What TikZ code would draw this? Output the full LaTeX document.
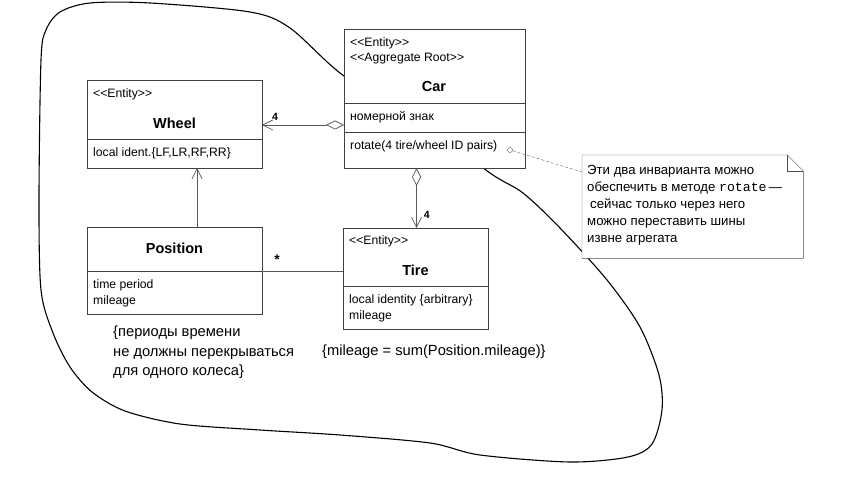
\documentclass[tikz,border=0pt]{standalone}
\usepackage{fontspec}
\setmainfont{Liberation Sans}
\setmonofont{Liberation Mono}
\usetikzlibrary{arrows.meta}

\begin{document}
\begin{tikzpicture}
        [x=1pt, y=-1pt,
        box/.style={draw=black!75, fill=white, anchor=north west, inner sep=0pt, outer sep=0pt},
        boxText/.style={anchor=west, inner sep=0pt, font=\fontsize{12.2}{14}\selectfont},
        className/.style={inner sep=0pt, font=\fontsize{14.5}{16}\selectfont\bfseries},
        mult/.style={inner sep=0pt, font=\fontsize{10.5}{12}\selectfont\bfseries},
        rule/.style={anchor=north west, align=left, inner sep=0pt, font=\fontsize{14.7}{19.5}\selectfont},
        assoc/.style={draw=black!65, line width=0.7pt},
        aggr/.style={assoc, {Diamond[open,length=18pt,width=9pt]}-{Straight Barb[length=10pt,width=10pt]}},
        navig/.style={assoc, -{Straight Barb[length=10pt,width=10pt]}}]
        \useasboundingbox (0,0) rectangle (859,478);

        % aggregate boundary
        \draw[line width=1.1pt] plot[smooth cycle] coordinates {(344,76) (290,28) (250,12) (150,3) (90,3) (60,12) (46,30) (41,60) (39,200) (41,290) (53,333) (70,367) (92,392) (125,411) (180,424) (260,430) (340,435) (430,443) (480,455) (570,462) (628,457) (652,444) (662,410) (659,375) (640,327) (607,280) (560,228) (523,193) (490,173) (420,120)};

        % Car
        \node[box, minimum width=181pt, minimum height=74pt] (carHead) at (344,29) {};
        \node[box, minimum width=181pt, minimum height=29pt] (carAttr) at (carHead.south west) {};
        \node[box, minimum width=181pt, minimum height=36pt] (carOps) at (carAttr.south west) {};
        \node[boxText] (carSt1) at (350,43) {<{}<Entity>{}>};
        \node[boxText] (carSt2) at (350,59) {<{}<Aggregate Root>{}>};
        \node[className] (carName) at (434,87) {Car};
        \node[boxText] (carPlate) at (350,117) {номерной знак};
        \node[boxText] (carRotate) at (350,146) {rotate(4 tire/wheel ID pairs)};

        % Wheel
        \node[box, minimum width=175pt, minimum height=59pt] (wheelHead) at (87,80) {};
        \node[box, minimum width=175pt, minimum height=29pt] (wheelAttr) at (wheelHead.south west) {};
        \node[boxText] (wheelSt) at (93,94) {<{}<Entity>{}>};
        \node[className] (wheelName) at (174.5,123) {Wheel};
        \node[boxText] (wheelIdent) at (93,153) {local ident.\{LF,LR,RF,RR\}};

        % Position
        \node[box, minimum width=175pt, minimum height=44pt] (posHead) at (87,227) {};
        \node[box, minimum width=175pt, minimum height=43pt] (posAttr) at (posHead.south west) {};
        \node[className] (posName) at (174.5,248) {Position};
        \node[boxText] (posPeriod) at (93,285) {time period};
        \node[boxText] (posMileage) at (93,301) {mileage};

        % Tire
        \node[box, minimum width=145pt, minimum height=58pt] (tireHead) at (343,228) {};
        \node[box, minimum width=145pt, minimum height=43pt] (tireAttr) at (tireHead.south west) {};
        \node[boxText] (tireSt) at (349,241) {<{}<Entity>{}>};
        \node[className] (tireName) at (415.5,270) {Tire};
        \node[boxText] (tireIdent) at (349,300) {local identity \{arbitrary\}};
        \node[boxText] (tireMileage) at (349,316) {mileage};

        \coordinate (carToWheel) at ([yshift=7pt]carAttr.south west);
        \coordinate (carToTire) at ([xshift=-18pt]carOps.south);
        \coordinate (posToWheel) at ([xshift=22.5pt]posHead.north);

        \draw[aggr] (carToWheel) -- (carToWheel -| wheelHead.east) node[mult, pos=0.84, above=4pt] {4};
        \draw[aggr] (carToTire) -- (carToTire |- tireHead.north) node[mult, pos=0.78, right=7pt] {4};
        \draw[navig] (posToWheel) -- (posToWheel |- wheelAttr.south);
        \draw[assoc] (posHead.south east) -- (posHead.south east -| tireHead.west) node[pos=0.185, above=3pt, font=\fontsize{14}{16}\selectfont\bfseries] {*};

        % constraints
        \node[rule] (posRule) at (113,326) {\{периоды времени\\не должны перекрываться\\для одного колеса\}};
        \node[rule] (tireRule) at (322,345) {\{mileage = sum(Position.mileage)\}};

        % note on rotate
        \node[anchor=north west, inner sep=0pt, minimum width=221pt, minimum height=103pt] (note) at (582,155) {};
        \draw[draw=black!70, fill=white] (note.north west) -- ([xshift=-16pt]note.north east) -- ([yshift=-16pt]note.north east) -- (note.south east) -- (note.south west) -- cycle;
        \draw[draw=black!70] ([xshift=-16pt]note.north east) |- ([yshift=-16pt]note.north east);
        \node[anchor=north west, align=left, inner sep=0pt, font=\fontsize{13.2}{17}\selectfont] (noteText) at (587,165) {Эти два инварианта можно\\обеспечить в методе \texttt{rotate}\,—\\\hspace{3pt}сейчас только через него\\можно переставить шины\\извне агрегата};
        \node[circle, draw=black!70, inner sep=0pt, minimum size=5pt] (rotDot) at (510,150) {};
        \draw[draw=black!60, dash pattern=on 3pt off 2pt] (rotDot) -- ([yshift=-17pt]note.north west);
    \end{tikzpicture}
\end{document}
